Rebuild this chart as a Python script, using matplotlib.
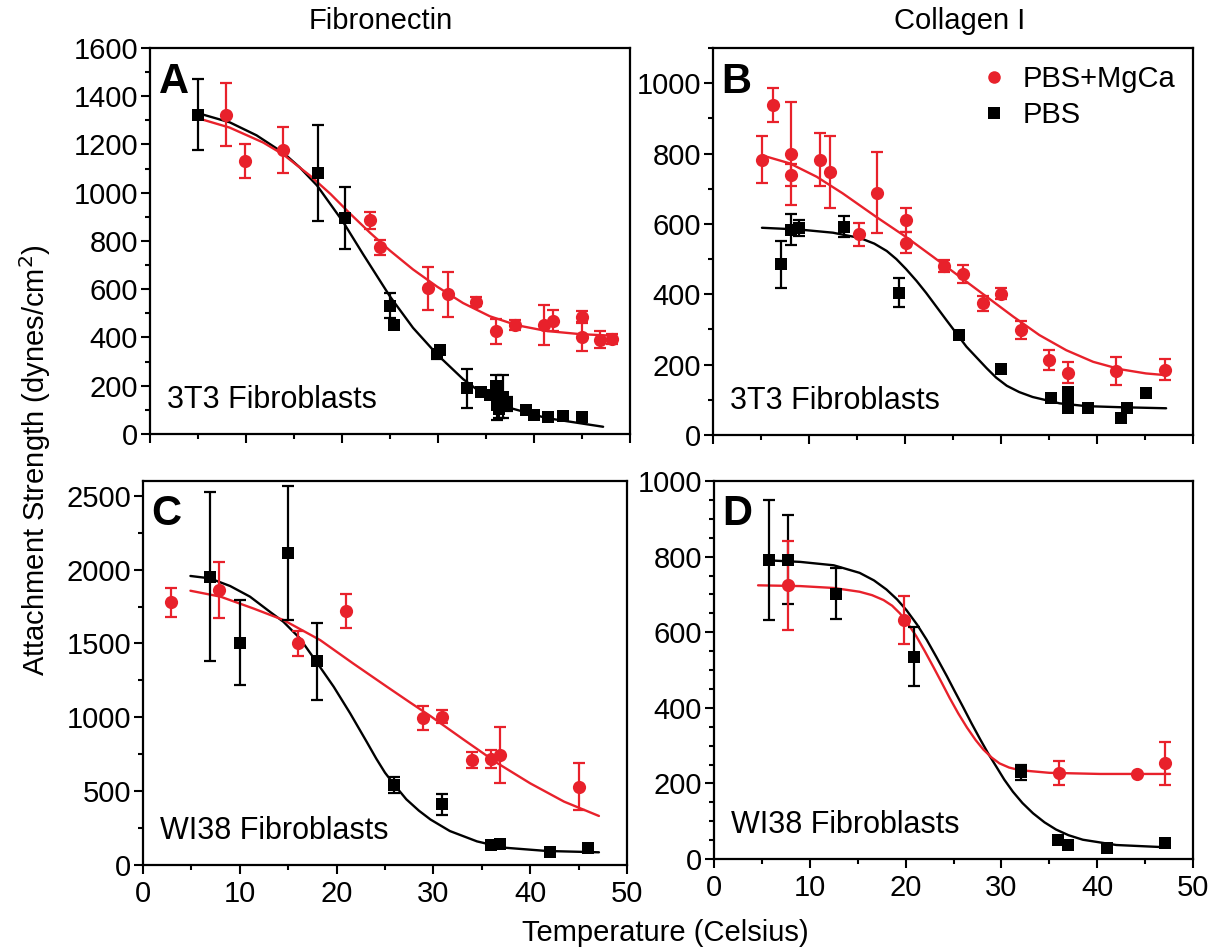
import numpy as np
import matplotlib
matplotlib.use("Agg")
import matplotlib.pyplot as plt
from matplotlib.ticker import MultipleLocator

# ---- data ----
# Panel A: fibronectin, 3T3 fibroblasts
a_mg_x = [7.9, 9.9, 13.9, 22.9, 24.0, 29.0, 31.0, 34.0, 36.0, 38.0, 41.0, 42.0, 45.0, 45.0, 46.9, 48.1]
a_mg_y = [1323, 1130, 1178, 885, 774, 604, 580, 549, 425, 452, 452, 470, 484, 404, 390, 393]
a_mg_err = [130, 70, 95, 35, 32, 88, 93, 20, 50, 20, 83, 45, 25, 60, 35, 20]
a_mg_fit_x = [4.9, 8.3, 11.8, 13.9, 16.7, 18.8, 20.8, 22.9, 25.0, 27.4, 29.9, 32.6, 35.4, 38.2, 41.3, 44.8, 48.4]
a_mg_fit_y = [1310, 1270, 1208, 1158, 1070, 995, 915, 835, 760, 682, 611, 543, 488, 451, 427, 414, 407]

a_pbs_x = [5.0, 17.5, 20.3, 25.0, 25.4, 29.9, 30.2, 33.0, 34.5, 35.4, 36.0, 36.1, 36.4, 36.8, 37.2, 39.2, 40.0, 41.5, 43.0, 45.0]
a_pbs_y = [1323, 1081, 895, 531, 452, 330, 348, 189, 176, 160, 200, 120, 105, 155, 125, 100, 79, 69, 75, 69]
a_pbs_err = [147, 200, 130, 52, 0, 20, 15, 80, 0, 0, 45, 60, 40, 90, 30, 0, 0, 0, 0, 0]
a_pbs_fit_x = [5.0, 8.3, 11.1, 13.9, 15.6, 17.4, 20.1, 22.2, 25.0, 27.4, 29.9, 32.6, 34.7, 37.5, 41.3, 47.2]
a_pbs_fit_y = [1330, 1292, 1238, 1165, 1105, 1030, 880, 745, 570, 440, 330, 228, 165, 108, 66, 30]

# Panel B: collagen I, 3T3 fibroblasts
b_mg_x = [5.1, 6.2, 8.1, 8.1, 11.1, 12.2, 15.2, 17.1, 20.1, 20.1, 24.1, 26.0, 28.1, 30.0, 32.1, 35.0, 37.0, 42.0, 47.1]
b_mg_y = [783, 938, 800, 739, 783, 748, 570, 689, 611, 546, 480, 457, 374, 402, 298, 213, 177, 183, 185]
b_mg_err = [68, 47, 147, 30, 75, 103, 33, 115, 35, 30, 18, 26, 22, 16, 26, 28, 30, 40, 30]
b_mg_fit_x = [5.1, 8.0, 10.8, 13.5, 17.0, 20.1, 22.9, 25.7, 28.5, 31.3, 34.0, 36.8, 39.6, 42.4, 45.1, 47.2]
b_mg_fit_y = [795, 772, 734, 687, 620, 563, 507, 450, 393, 336, 284, 241, 208, 187, 175, 170]

b_pbs_x = [7.1, 8.1, 9.0, 13.6, 19.4, 25.6, 30.0, 35.2, 37.0, 37.0, 37.0, 39.1, 42.5, 43.1, 45.1]
b_pbs_y = [485, 584, 589, 592, 405, 284, 188, 104, 123, 99, 76, 78, 47, 78, 118]
b_pbs_err = [66, 45, 22, 30, 41, 10, 12, 0, 0, 0, 0, 0, 0, 0, 0]
b_pbs_fit_x = [5.1, 9.0, 12.5, 15.3, 16.8, 18.1, 19.1, 20.1, 21.2, 22.2, 24.3, 26.4,
               28.5, 29.5, 30.6, 31.9, 33.3, 36.1, 38.9, 42.4, 47.2]
b_pbs_fit_y = [589, 584, 575, 560, 544, 523, 500, 472, 438, 404, 327, 251,
               190, 163, 140, 122, 108, 90, 82, 79, 76]

# Panel C: fibronectin, WI38 fibroblasts
c_mg_x = [2.9, 7.9, 16.0, 21.0, 28.9, 30.9, 34.0, 35.9, 36.9, 45.0]
c_mg_y = [1780, 1863, 1502, 1723, 994, 1005, 711, 716, 745, 531]
c_mg_err = [98, 190, 85, 115, 83, 45, 56, 60, 188, 158]
c_mg_fit_x = [4.9, 8.0, 11.4, 14.5, 18.3, 21.7, 25.2, 27.6, 29.7, 33.1, 36.6, 40.0, 43.5, 47.1]
c_mg_fit_y = [1857, 1817, 1737, 1659, 1523, 1365, 1207, 1100, 1008, 850, 690, 553, 429, 332]

c_pbs_x = [6.9, 10.0, 15.0, 18.0, 25.9, 30.9, 35.9, 36.9, 42.0, 46.0]
c_pbs_y = [1953, 1506, 2112, 1378, 542, 411, 135, 142, 90, 113]
c_pbs_err = [573, 288, 454, 262, 56, 73, 0, 0, 0, 0]
c_pbs_fit_x = [4.9, 6.9, 9.0, 11.05, 13.1, 14.5, 16.2, 17.9, 19.7, 21.4, 23.1, 24.1, 25.0,
               25.9, 27.2, 28.5, 29.7, 31.7, 34.5, 37.2, 41.7, 47.1]
c_pbs_fit_y = [1957, 1941, 1889, 1817, 1715, 1647, 1535, 1377, 1207, 1027, 835, 720, 625,
               548, 445, 368, 308, 230, 160, 118, 95, 86]

# Panel D: collagen I, WI38 fibroblasts
d_mg_x = [7.7, 19.8, 36.0, 44.2, 47.1]
d_mg_y = [724, 632, 228, 224, 253]
d_mg_err = [117, 63, 31, 0, 56]
d_mg_fit_x = [4.6, 9.0, 12.5, 15.2, 16.5, 17.7, 18.6, 19.4, 20.2, 21.1, 22.0, 22.9, 23.8,
              24.6, 25.5, 26.4, 27.3, 28.1, 29.0, 29.8, 30.8, 31.9, 35.0, 40.3, 47.6]
d_mg_fit_y = [724, 722, 717, 707, 698, 685, 670, 650, 624, 590, 550, 508, 465,
              426, 385, 348, 315, 290, 268, 253, 242, 235, 228, 225, 225]

d_pbs_x = [5.7, 7.7, 12.7, 20.9, 32.0, 35.9, 37.0, 41.0, 47.1]
d_pbs_y = [792, 792, 702, 535, 229, 50, 37, 28, 43]
d_pbs_err = [159, 117, 67, 78, 21, 0, 0, 0, 0]
d_pbs_fit_x = [5.7, 9.0, 12.5, 15.2, 16.7, 18.0, 19.1, 20.1, 21.2, 22.2, 23.2, 24.3, 25.1, 26.0,
               26.9, 27.8, 28.6, 29.5, 30.3, 31.2, 32.2, 33.3, 34.5, 35.7, 37.0, 38.5, 42.0, 47.2]
d_pbs_fit_y = [790, 786, 777, 757, 737, 713, 687, 658, 620, 580, 535, 484, 445, 402,
               358, 316, 280, 243, 210, 178, 148, 121, 97, 78, 63, 51, 37, 31]

RED = "#e8212b"
FIG_W, FIG_H = 1212, 952

plt.rcParams.update(
    {
        "font.family": ["Liberation Sans", "DejaVu Sans"],
        "font.size": 21,
        "axes.linewidth": 1.6,
        "xtick.direction": "out",
        "ytick.direction": "out",
        "xtick.major.size": 6.5,
        "ytick.major.size": 6.5,
        "xtick.minor.size": 3.8,
        "ytick.minor.size": 3.8,
        "xtick.major.width": 1.5,
        "ytick.major.width": 1.5,
        "xtick.minor.width": 1.5,
        "ytick.minor.width": 1.5,
        "xtick.major.pad": 4,
        "ytick.major.pad": 2,
    }
)


def px_axes(fig, left, right, top, bottom):
    return fig.add_axes(
        [left / FIG_W, 1 - bottom / FIG_H, (right - left) / FIG_W, (bottom - top) / FIG_H]
    )


def draw_series(ax, x, y, err, fit_x, fit_y, color, marker, ms, label):
    x = np.asarray(x, dtype=float)
    y = np.asarray(y, dtype=float)
    err = np.asarray(err, dtype=float)
    ax.plot(fit_x, fit_y, color=color, linewidth=1.7, zorder=2,
            solid_joinstyle="round", solid_capstyle="round")
    has_err = err > 0
    ax.errorbar(
        x[has_err], y[has_err], yerr=err[has_err], fmt="none",
        ecolor=color, elinewidth=1.6, capsize=4.5, capthick=1.6, zorder=3,
    )
    ax.plot(x, y, linestyle="none", marker=marker, color=color,
            markersize=ms, markeredgewidth=0, label=label, zorder=4)


def style_panel(ax, ymax, ymajor, yminor, letter, cell_text, show_xlabels):
    ax.set_xlim(0, 50)
    ax.set_ylim(0, ymax)
    ax.xaxis.set_major_locator(MultipleLocator(10))
    ax.xaxis.set_minor_locator(MultipleLocator(5))
    ax.yaxis.set_major_locator(MultipleLocator(ymajor))
    ax.yaxis.set_minor_locator(MultipleLocator(yminor))
    ax.tick_params(which="both", top=False, right=False)
    if not show_xlabels:
        ax.tick_params(axis="x", labelbottom=False)
    ax.text(0.018, 0.965, letter, transform=ax.transAxes, fontsize=30,
            fontweight="bold", ha="left", va="top")
    ax.text(0.036, 0.05, cell_text, transform=ax.transAxes, fontsize=22,
            ha="left", va="bottom")


fig = plt.figure(figsize=(FIG_W / 100, FIG_H / 100), dpi=100)

ax_a = px_axes(fig, 150, 630, 48, 434)
draw_series(ax_a, a_pbs_x, a_pbs_y, a_pbs_err, a_pbs_fit_x, a_pbs_fit_y, "black", "s", 8.5, "PBS")
draw_series(ax_a, a_mg_x, a_mg_y, a_mg_err, a_mg_fit_x, a_mg_fit_y, RED, "o", 9.5, "PBS+MgCa")
style_panel(ax_a, 1600, 200, 100, "A", "3T3 Fibroblasts", False)

ax_b = px_axes(fig, 713, 1193, 48, 435)
draw_series(ax_b, b_pbs_x, b_pbs_y, b_pbs_err, b_pbs_fit_x, b_pbs_fit_y, "black", "s", 8.5, "PBS")
draw_series(ax_b, b_mg_x, b_mg_y, b_mg_err, b_mg_fit_x, b_mg_fit_y, RED, "o", 9.5, "PBS+MgCa")
style_panel(ax_b, 1100, 200, 100, "B", "3T3 Fibroblasts", False)
handles, labels = ax_b.get_legend_handles_labels()
ax_b.legend(handles[::-1], labels[::-1], loc="upper right", frameon=False,
            fontsize=21, handlelength=0.8, handletextpad=0.6, labelspacing=0.25,
            borderaxespad=0.2, markerscale=0.95)

ax_c = px_axes(fig, 143, 627, 481, 865)
draw_series(ax_c, c_pbs_x, c_pbs_y, c_pbs_err, c_pbs_fit_x, c_pbs_fit_y, "black", "s", 8.5, "PBS")
draw_series(ax_c, c_mg_x, c_mg_y, c_mg_err, c_mg_fit_x, c_mg_fit_y, RED, "o", 9.5, "PBS+MgCa")
style_panel(ax_c, 2600, 500, 250, "C", "WI38 Fibroblasts", True)

ax_d = px_axes(fig, 714, 1193, 481, 859)
draw_series(ax_d, d_pbs_x, d_pbs_y, d_pbs_err, d_pbs_fit_x, d_pbs_fit_y, "black", "s", 8.5, "PBS")
draw_series(ax_d, d_mg_x, d_mg_y, d_mg_err, d_mg_fit_x, d_mg_fit_y, RED, "o", 9.5, "PBS+MgCa")
style_panel(ax_d, 1000, 200, 50, "D", "WI38 Fibroblasts", True)

fig.text(381 / FIG_W, 1 - 21 / FIG_H, "Fibronectin", ha="center", va="center", fontsize=21)
fig.text(960 / FIG_W, 1 - 21 / FIG_H, "Collagen I", ha="center", va="center", fontsize=21)
fig.text(35 / FIG_W, 1 - 460 / FIG_H, "Attachment Strength (dynes/cm$^2$)",
         rotation=90, ha="center", va="center", fontsize=21)
fig.text(665 / FIG_W, 1 - 933 / FIG_H, "Temperature (Celsius)",
         ha="center", va="center", fontsize=21)

fig.savefig("out.png", dpi=100)
